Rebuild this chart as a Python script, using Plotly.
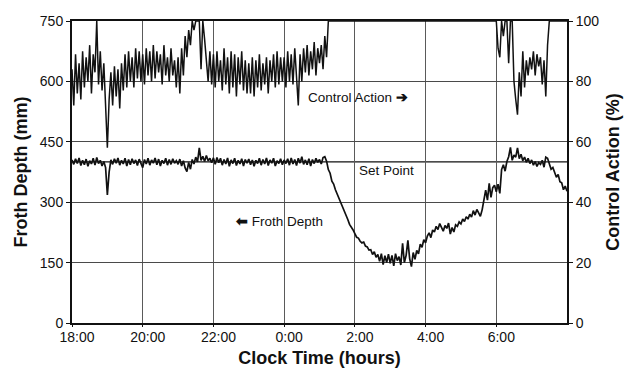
import plotly.graph_objects as go

# ---------------- data ----------------
STEP_H = 0.05  # 3-minute samples, hours after 18:00
TICK_VALS = [0, 2, 4, 6, 8, 10, 12]
TICK_TEXT = ["18:00", "20:00", "22:00", "0:00", "2:00", "4:00", "6:00"]
LEFT_TICKS = [0, 150, 300, 450, 600, 750]
RIGHT_TICKS = [0, 20, 40, 60, 80, 100]
SET_POINT = 400

froth_depth = (
    [405, 394, 408, 396, 410, 391, 404, 393, 407, 389, 403, 395, 409, 392, 411, 396, 404, 390, 401, 386]
    + [318, 375, 405, 394, 408, 397, 410, 392, 404, 395, 409, 390, 406, 393, 408, 396, 405, 391, 407, 394]
    + [386, 406, 395, 409, 392, 405, 397, 410, 393, 407, 390, 404, 396, 409, 392, 406, 394, 408, 397, 403]
    + [394, 407, 390, 403, 385, 376, 399, 382, 406, 395, 412, 400, 435, 404, 414, 401, 416, 403, 409, 398]
    + [410, 394, 411, 398, 409, 392, 406, 395, 410, 389, 405, 396, 409, 391, 404, 395, 408, 390, 406, 397]
    + [407, 393, 405, 389, 404, 396, 409, 392, 406, 395, 410, 391, 405, 397, 409, 390, 403, 396, 408, 393]
    + [405, 396, 408, 392, 410, 395, 406, 391, 409, 397, 413, 394, 405, 393, 408, 390, 406, 396, 409, 399]
    + [406, 395, 411, 413, 402, 381, 372, 352, 345, 331, 321, 311, 300, 290, 279, 267, 257, 245, 239, 231]
    + [222, 213, 211, 203, 199, 201, 191, 189, 181, 182, 170, 177, 163, 170, 153, 172, 145, 167, 150, 171]
    + [148, 168, 142, 172, 155, 165, 144, 198, 150, 168, 205, 160, 140, 175, 158, 180, 172, 196, 188, 207]
    + [199, 216, 224, 212, 231, 226, 240, 232, 247, 235, 228, 242, 235, 248, 221, 237, 226, 244, 240, 251]
    + [246, 258, 252, 264, 258, 270, 263, 279, 268, 282, 275, 265, 281, 302, 330, 305, 347, 312, 336, 342]
    + [326, 345, 322, 381, 393, 377, 401, 413, 436, 404, 417, 412, 435, 408, 419, 403, 412, 399, 409, 396]
    + [405, 392, 401, 389, 398, 394, 404, 387, 412, 409, 395, 382, 386, 371, 362, 369, 351, 348, 331, 340]
    + [327]
)

control_action = (
    [84, 72, 89, 76, 86, 74, 90, 78, 88, 80, 92, 76, 89, 83, 100, 79, 90, 77, 86, 73]
    + [58, 74, 83, 72, 85, 75, 84, 71, 86, 77, 89, 78, 90, 80, 88, 78, 91, 81, 90, 80]
    + [89, 79, 91, 82, 90, 80, 92, 81, 90, 83, 89, 79, 92, 82, 88, 80, 91, 82, 87, 78]
    + [88, 76, 91, 82, 95, 88, 97, 92, 100, 97, 100, 100, 100, 84, 100, 94, 86, 80, 90, 79]
    + [89, 78, 90, 80, 87, 77, 91, 79, 88, 76, 90, 78, 89, 75, 88, 79, 90, 77, 87, 76]
    + [86, 76, 88, 75, 87, 78, 89, 77, 86, 79, 88, 76, 87, 80, 89, 78, 90, 79, 88, 80]
    + [88, 78, 90, 80, 89, 79, 91, 82, 72, 89, 80, 91, 83, 92, 82, 90, 84, 93, 82, 91]
    + [86, 92, 84, 95, 88, 100, 100, 100, 100, 100, 100, 100, 100, 100, 100, 100, 100, 100, 100, 100]
    + [100] * 20
    + [100] * 20
    + [100] * 20
    + [100] * 20
    + [100, 91, 88, 100, 95, 100, 100, 86, 100, 100, 80, 74, 69, 83, 75, 90, 78, 87, 82, 88]
    + [84, 90, 82, 89, 85, 88, 79, 87, 75, 92, 100, 100, 100, 100, 100, 100, 100, 100, 100, 100]
    + [100]
)

hours = [i * STEP_H for i in range(len(froth_depth))]

FONT = "Liberation Sans, Arial, sans-serif"
INK = "#111111"

fig = go.Figure()
fig.add_trace(go.Scatter(x=hours, y=control_action, yaxis="y2", mode="lines",
                         line=dict(color=INK, width=1.5), name="Control Action"))
fig.add_trace(go.Scatter(x=hours, y=froth_depth, mode="lines",
                         line=dict(color=INK, width=1.7), name="Froth Depth"))
fig.add_hline(y=SET_POINT, line=dict(color=INK, width=1.2), layer="below")

fig.update_layout(
    width=635, height=372,
    margin=dict(l=72, r=68, t=21, b=49),
    paper_bgcolor="white", plot_bgcolor="white",
    showlegend=False,
    font=dict(family=FONT, color=INK, size=14),
    xaxis=dict(range=[0, 14], tickvals=TICK_VALS, ticktext=TICK_TEXT,
               showgrid=True, gridcolor="#5a5a5a", gridwidth=1,
               ticks="outside", ticklen=2, tickcolor=INK,
               ticklabelstandoff=-2, ticklabelshift=5,
               showline=True, linecolor=INK, linewidth=2, mirror=True,
               zeroline=False, automargin=False,
               title=dict(text="<b>Clock Time (hours)</b>", font=dict(size=18), standoff=8)),
    yaxis=dict(range=[0, 750], tickvals=LEFT_TICKS,
               showgrid=True, gridcolor="#4a4a4a", gridwidth=1,
               ticks="outside", ticklen=4, tickcolor=INK,
               showline=True, linecolor=INK, linewidth=2,
               zeroline=False, automargin=False,
               title=dict(text="<b>Froth Depth (mm)</b>", font=dict(size=18), standoff=8)),
    yaxis2=dict(range=[0, 100], tickvals=RIGHT_TICKS, overlaying="y", side="right",
                showgrid=False, ticks="outside", ticklen=4, tickcolor=INK,
                showline=True, linecolor=INK, linewidth=2, zeroline=False, automargin=False,
                title=dict(text="<b>Control Action (%)</b>", font=dict(size=18), standoff=8)),
    annotations=[
        dict(x=8.1, y=561, xref="x", yref="y", text="Control Action <b>➔</b>", showarrow=False,
             font=dict(size=13.5, color=INK)),
        dict(x=8.9, y=378, xref="x", yref="y", text="Set Point", showarrow=False,
             font=dict(size=13.5, color=INK)),
        dict(x=5.85, y=253, xref="x", yref="y", text="<b>⬅</b> Froth Depth", showarrow=False,
             font=dict(size=13.5, color=INK)),
    ],
)

fig.write_html("out.html")
